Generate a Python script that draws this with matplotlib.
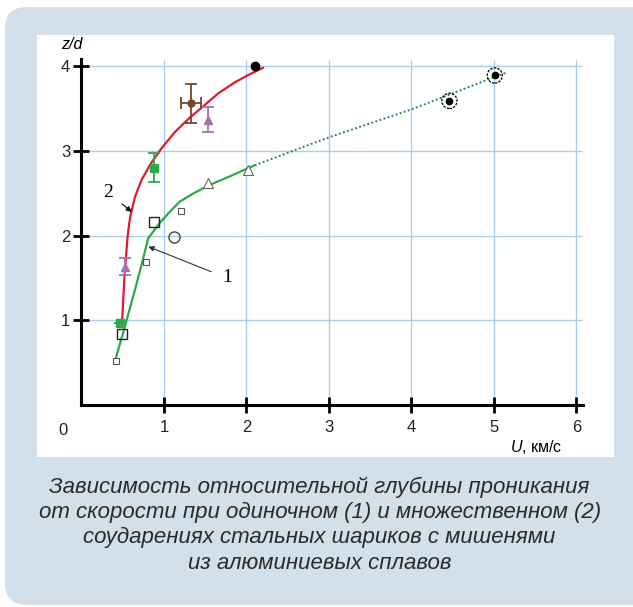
import matplotlib
matplotlib.use("Agg")
import matplotlib.pyplot as plt
from matplotlib.patches import FancyBboxPatch

plt.rcParams['font.family'] = ['Liberation Sans', 'DejaVu Sans']
plt.rcParams['mathtext.fontset'] = 'custom'
plt.rcParams['mathtext.it'] = 'Liberation Sans:italic'
plt.rcParams['mathtext.rm'] = 'Liberation Sans'

# Curve 2 (multiple impacts), red
red_u = [0.49, 0.52, 0.56, 0.59, 0.65, 0.73, 0.84, 0.97, 1.13, 1.30,
         1.48, 1.66, 1.86, 2.05, 2.20]
red_z = [0.94, 1.50, 2.00, 2.22, 2.46, 2.66, 2.85, 3.03, 3.22, 3.38,
         3.53, 3.68, 3.81, 3.91, 3.98]

# Curve 1 (single impact), green, solid part
green_u = [0.41, 0.53, 0.66, 0.74, 0.81, 0.95, 1.07, 1.19, 1.36, 1.56,
           1.80, 2.10]
green_z = [0.53, 0.94, 1.40, 1.70, 1.97, 2.15, 2.28, 2.40, 2.50, 2.60,
           2.70, 2.83]

# Curve 1 extrapolation, dotted
dot_u = [2.10, 3.0, 4.0, 5.0, 5.14]
dot_z = [2.83, 3.16, 3.49, 3.87, 3.92]

# Experimental points
black_u, black_z = [2.10], [4.0]
brown_u, brown_z, brown_xerr, brown_yerr = [1.33], [3.56], [0.12], [0.23]
purple_u, purple_z, purple_yerr = [1.53, 0.53], [3.37, 1.63], [0.15, 0.10]
gsq_u, gsq_z, gsq_yerr = [0.88, 0.47], [2.80, 0.97], [0.17, 0.0]
osq_u, osq_z = [0.88, 0.49], [2.16, 0.84]
ssq_u, ssq_z = [0.42, 0.78, 1.21], [0.52, 1.69, 2.29]
circ_u, circ_z = [1.12], [1.98]
tri_u, tri_z = [1.53, 2.02], [2.62, 2.78]
ring_u, ring_z = [4.46, 5.01], [3.59, 3.89]

x_ticks = [1, 2, 3, 4, 5, 6]
y_ticks = [1, 2, 3, 4]

caption = ("Зависимость относительной глубины проникания\n"
           "от скорости при одиночном (1) и множественном (2)\n"
           "соударениях стальных шариков с мишенями\n"
           "из алюминиевых сплавов")

RED = '#e01b2c'
GREEN = '#2fa84c'
GRID = '#a9cdee'

fig = plt.figure(figsize=(6.33, 6.07), dpi=100, facecolor='white')

# Rounded background panel
panel = FancyBboxPatch((5 / 633, 2 / 607), 700 / 633, 598 / 607,
                       boxstyle="round,pad=0,rounding_size=0.035",
                       transform=fig.transFigure, facecolor='#d3dfe9',
                       edgecolor='none', zorder=-1)
fig.patches.append(panel)

ax = fig.add_axes([37 / 633, 150 / 607, 577 / 633, 422 / 607], zorder=2)
ax.set_facecolor('white')
ax.set_xlim(-0.539, 6.455)
ax.set_ylim(-0.614, 4.368)

# grid
ax.vlines(x_ticks, 0, 4.07, color=GRID, lw=1.0, zorder=1)
ax.hlines(y_ticks, 0, 6.07, color=GRID, lw=1.0, zorder=1)

# axes lines
for side in ['top', 'right']:
    ax.spines[side].set_visible(False)
ax.spines['left'].set_position(('data', 0))
ax.spines['bottom'].set_position(('data', 0))
ax.spines['left'].set_bounds(0, 4.08)
ax.spines['bottom'].set_bounds(0, 6.08)
for side in ['left', 'bottom']:
    ax.spines[side].set_linewidth(2.2)
    ax.spines[side].set_color('black')

ax.set_xticks(x_ticks)
ax.set_yticks(y_ticks)
ax.tick_params(direction='inout', length=12, width=2.0, labelsize=12,
               labelcolor='#222222')
ax.tick_params(axis='x', pad=5)
ax.tick_params(axis='y', pad=2)
ax.text(-0.22, -0.30, '0', fontsize=12, color='#222222', ha='center', va='center')

ax.text(-0.12, 4.26, 'z/d', fontsize=11.5, style='italic', ha='center', va='center')
ax.text(5.19, -0.50, '$U$, км/с', fontsize=11.5, ha='left', va='center')

# curves
ax.plot(red_u, red_z, color=RED, lw=1.6, zorder=3)
ax.plot(green_u, green_z, color=GREEN, lw=1.6, zorder=3)
ax.plot(dot_u, dot_z, color='#2f8a45', lw=1.4, ls=(0, (1, 1.2)), zorder=3)

# points
ax.errorbar(brown_u, brown_z, xerr=brown_xerr, yerr=brown_yerr, fmt='o',
            color='#7a4526', ms=5, lw=1.3, capsize=4, capthick=1.3, zorder=4)
ax.errorbar(purple_u, purple_z, yerr=purple_yerr, fmt='^', color='#a072b3',
            ms=6, lw=1.3, capsize=4, capthick=1.3, zorder=4)
ax.errorbar(gsq_u, gsq_z, yerr=gsq_yerr, fmt='s', color=GREEN,
            ms=5.5, lw=1.3, capsize=4, capthick=1.3, zorder=4)
ax.plot(black_u, black_z, 'o', color='black', ms=6, zorder=4)
ax.plot(osq_u, osq_z, 's', mfc='none', mec='#222222', mew=1.0, ms=7, zorder=4)
ax.plot(ssq_u, ssq_z, 's', mfc='white', mec='#555555', mew=0.8, ms=4.5, zorder=4)
ax.plot(circ_u, circ_z, 'o', mfc='none', mec='#444444', mew=1.0, ms=8, zorder=4)
ax.plot(tri_u, tri_z, '^', mfc='white', mec='#666666', mew=0.8, ms=7, zorder=4)
ax.scatter(ring_u, ring_z, s=120, facecolors='none', edgecolors='black',
           linewidths=0.9, linestyles=(0, (2, 1)), zorder=4)
ax.plot(ring_u, ring_z, 'o', color='black', ms=4.5, zorder=5)

# curve labels
ax.annotate('2', xy=(0.61, 2.28), xytext=(0.32, 2.51), fontsize=14,
            family='Liberation Serif', ha='center', va='center',
            arrowprops=dict(arrowstyle='-|>', color='black', lw=0.8,
                            mutation_scale=8, shrinkA=6, shrinkB=0))
ax.annotate('1', xy=(0.81, 1.87), xytext=(1.76, 1.50), fontsize=14,
            family='Liberation Serif', ha='center', va='center',
            arrowprops=dict(arrowstyle='-|>', color='#333333', lw=0.8,
                            mutation_scale=8, shrinkA=6, shrinkB=0))

fig.text(0.505, 1 - 525 / 607, caption, ha='center', va='center',
         fontsize=16, style='italic', color='#2b2b2b', linespacing=1.26)

fig.savefig('out.png', dpi=100)
